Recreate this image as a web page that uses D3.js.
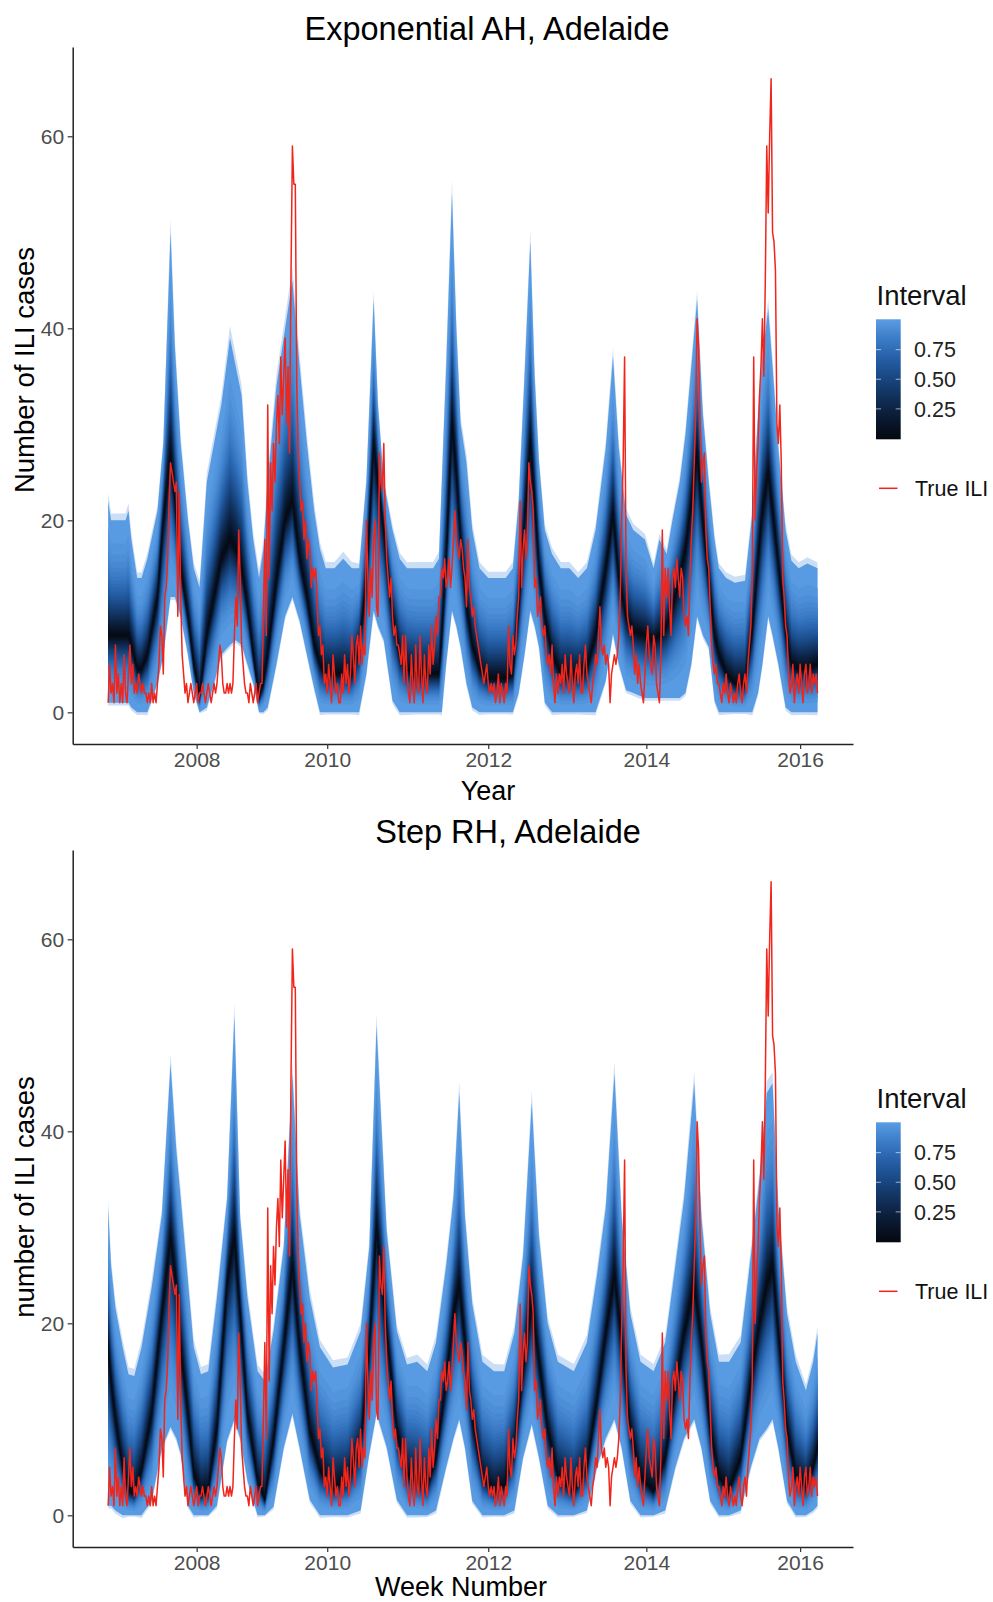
<!DOCTYPE html>
<html>
<head>
<meta charset="utf-8">
<script src="https://cdn.jsdelivr.net/npm/d3@7"></script>
<style>
body { margin: 0; background: #fff; }
svg text { font-family: "Liberation Sans", Arial, Helvetica, sans-serif; }
</style>
</head>
<body>
<div id="chart"></div>
<script>
// weekly true ILI counts (week 0 = first week shown)
const trueILI = [
  1,5,2,3,1,7,2,4,1,3,1,6,2,1,4,7,3,5,2,3,2,4,3,
  2,3,2,2,1,2,1,3,1,2,1,3,
  5,9,8,4,12,13,16,22,26,25,24,23,24,10,23,12,6,4,
  2,3,1,2,3,2,1,2,3,1,2,
  2,3,2,1,2,3,2,1,2,3,2,
  3,5,7,6,3,2,
  2,3,2,3,2,3,
  8,12,9,19,14,7,5,3,2,
  2,1,3,2,1,2,3,1,2,3,
  3,10,18,8,32,14,26,21,28,24,30,33,28,37,31,35,39,30,36,27,45,59,55,55,
  34,27,24,21,22,18,20,16,18,17,13,15,14,15,12,8,9,6,7,3,
  4,2,5,3,1,6,4,2,3,1,1,4,2,6,3,5,2,4,8,6,3,7,8,5,
  9,5,7,6,20,14,10,15,12,18,20,11,10,27,24,23,28,20,16,14,12,14,10,8,9,7,7,
  6,5,8,3,8,4,2,1,6,3,1,7,3,2,8,4,1,6,3,2,7,4,9,5,7,10,8,12,
  12,15,14,16,13,14,16,13,15,18,21,18,17,16,18,17,15,14,11,18,13,12,10,11,9,8,7,6,5,4,3,4,5,3,2,3,2,
  3,1,2,4,1,3,2,1,3,2,9,5,4,8,6,7,10,12,
  22,13,17,19,16,18,26,24,23,21,13,14,10,11,12,9,8,9,6,5,6,4,7,3,1,
  4,2,4,3,5,2,6,4,3,2,6,3,1,4,5,3,6,2,2,5,7,4,3,2,1,3,4,6,5,8,11,7,
  6,7,5,6,5,1,4,5,6,5,6,8,12,20,26,37,15,10,9,8,
  9,7,4,6,3,5,3,2,1,4,7,9,6,5,4,8,7,3,2,1,6,19,8,15,
  12,15,11,8,14,15,13,16,14,12,15,14,10,9,10,8,14,18,21,
  26,31,41,38,30,24,26,27,19,16,15,11,7,5,4,5,3,3,2,1,3,2,
  4,2,1,3,2,1,2,1,3,4,2,1,3,4,2,5,7,9,14,
  37,20,25,28,33,36,41,35,45,59,52,60,66,50,49,46,30,28,32,26,14,12,9,8,
  4,2,3,5,1,3,4,2,5,3,1,4,5,2,3,5,2,4,3,4,2
];

// Exponential AH forecast: week, outer lower bound, median, outer upper bound
const ahWeek = [0,2,12,14,16,20,23, 27,34,38,43,46,50,55,59, 63,68,73,78,84,88,92,96,100,
  104,107,110,116,122,127,132,137,142,146, 150,156,162,168,173, 178,183,186,190,196,201,
  206,212,218,224,228, 230,233,237,240,243,247,251, 256,262,268,274,279,
  283,287,291,294,297,301,306, 312,318,324,330,336, 343,348,352,357,362,370,376,380,385,
  389,394,398,402,406,410,414,418,421,426,432,439, 444,448,451,455,458,462,467,471,476,482,489];
const ahLo = [1,1,1,1,0.5,0,0, 0,3,6,12,12,10,6,2, 0,0.5,3,6,7,7.5,7,5,3,
  0,0,0.5,5,10,12,9.5,6,2.5,0, 0,0,0,0,0, 4,10.6,9,7.5,1.2,0,
  0,0,0,0,0, 0,5,10.6,9,6.8,3,0.5, 0,0,0,0,0,
  2,6,10.6,9,6.8,1,0, 0,0,0,0,0, 3.3,8.2,5,2.3,2,1.5,1.5,1.5,1.5,
  1.5,1.5,2,5,10,8,6.8,1.2,0,0,0,0, 0,2,5,10,8,5,0.5,0,0,0,0];
const ahMed = [8,8,8,8,7,4.5,4.5, 6,12,20,27,22,15,10,5, 1.5,8,12,16,18,17,15,11,6,
  1.5,3,6,13.7,20,22,16,12,7,5, 4,4,4,4,6.8, 13.7,28,24,19,10,6,
  4.5,4,4,4,4, 8,16,30,25,18,11,7, 4.5,3.5,3.5,3.5,4,
  11,20,28,22,15,10,6, 4,4,4,4.5,8, 15,20.6,14,10,8.5,8,7.5,8,9,
  11,14,17,22,27,20,13.7,8,6,4,3,3, 8.5,16,21,25,21,15.4,8.5,5,4.5,4.5,5];
const ahHi = [22,20,20,21,18,14,14, 16,21,28,50,38,28,20,15, 13,24,28,32,39,36,33,24,18,
  14,17,24,34,40,45,36,28,21,17, 15,15,16,15,15, 24,43,32,24,19,16,
  15,15,15,15,16, 24,36,54,40,30,26,19, 15,14,14,14,15,
  22,35,49,35,26,19,16.5, 15,15,14,15,19, 27.5,37,27.5,20.6,19,18,15,18,16.5,
  20,24,29,36,43,31,24,18,15,14,13.5,13.7, 20.6,31,37,42,36,27.5,19,15.8,15,15.5,15];

// Step RH forecast
const rhWeek = [0,2,5,10,14,18,23, 30,37,43,47,50,55,59,64,69, 75,82,87,91,96,103,108,
  114,121,127,132,139,146,155,165, 174,180,185,192,199,206,213,220,226,
  233,238,242,246,251,258,266,273,280, 286,292,297,303,310,321,330,
  337,343,349,354,360,367,376,384, 391,397,404,409,415,421,428,436,
  443,449,454,458,462,468,474,481,486,489];
const rhLo = [1,1,0.5,0,0,0,0, 1.5,7,9.2,8,6.4,1,0,0,0, 1,7.8,10,8,3.6,0,0,
  0.9,7,10.6,7,1.6,0,0,0, 0.5,6.4,10.6,7.1,1.6,0,0,0,0.5,
  5,8,10,7,1.5,0,0,0,0.5, 6,9.5,6,1,0,0,0.5,
  5,8,10,7,1.5,0,0,0.5, 5,8,10,7,1.5,0,0,0.5,
  5,8,9,10,7,1.5,0,0,0.5,1];
const rhMed = [17.5,14,10,5,2.6,2.2,4.7, 10.6,21,29,24,17.5,10.6,4.3,2.2,2.5, 9.2,24.4,29,21,10.6,3.6,1.6,
  7.8,17.5,26,17.5,8.8,4.7,2.9,3.6, 7.1,17.5,30,19.2,8.8,4.3,3.6,3,6,
  14,21,24,18,10,4,2.5,3,7, 15,22,16,9,4,2.5,5,
  12,19,25,18,9,4,2.5,6, 13,19,24,18,9,4,2.5,6,
  14,20,24,26,19,9,4,3,5,7];
const rhHi = [32,26,21.6,17.5,14.7,14.5,17.5, 23.7,31.3,47,38,33,24.4,17.5,14.7,15, 22.7,33,52,31,22.7,15,14,
  19.2,27.9,46,31.3,22.7,17.5,15.4,15.7, 19.2,27.9,51,29.6,19.2,15.7,16,15,18,
  26,33,44,31,22,16,15,15,19, 27,43,29,20,16,15,18,
  25,32,46,31,21,16,15,18, 26,33,45,31,21,16,16,18,
  27,35,44,45,32,21,16,13,16,19];

const yearTicks = [61, 151, 262, 371, 477];
const yearLabels = ['2008', '2010', '2012', '2014', '2016'];
const countTicks = [0, 20, 40, 60];
const intervalTicks = [0.25, 0.5, 0.75];

const width = 993, height = 1602;

const svg = d3.select('#chart')
  .append('svg')
  .attr('width', width)
  .attr('height', height);

const fanColor = d3.interpolateRgbBasis(['#05080f', '#0c2140', '#17457f', '#2a69b8', '#5a9de4']);
const redColor = '#f0251b';

// width of a central interval relative to the outer (99%) one, normal shape
function erfinv(v) {
  const a = 0.147;
  const ln = Math.log(1 - v * v);
  const t = 2 / (Math.PI * a) + ln / 2;
  return Math.sign(v) * Math.sqrt(Math.sqrt(t * t - ln / a) - t);
}
const zOuter = erfinv(0.99);
const levels = d3.range(0.99, 0, -0.03);

const x = d3.scaleLinear().domain([-24.45, 513.45]).range([72.7, 853]);

const panels = [
  {top: 47, bottom: 744, title: 'Exponential AH, Adelaide', titleX: 487, titleY: 40,
   ylab: 'Number of ILI cases', ylabY: 370, xlab: 'Year', xlabX: 488, xlabY: 800,
   week: ahWeek, lo: ahLo, med: ahMed, hi: ahHi},
  {top: 850, bottom: 1547, title: 'Step RH, Adelaide', titleX: 508, titleY: 843,
   ylab: 'number of ILI cases', ylabY: 1197, xlab: 'Week Number', xlabX: 461, xlabY: 1596,
   week: rhWeek, lo: rhLo, med: rhMed, hi: rhHi}
];

// gradient for the colourbar
const grad = svg.append('defs').append('linearGradient')
  .attr('id', 'intervalGrad')
  .attr('x1', 0).attr('y1', 1).attr('x2', 0).attr('y2', 0);
d3.range(0, 1.0001, 0.05).forEach(t => {
  grad.append('stop').attr('offset', t).attr('stop-color', fanColor(t));
});

panels.forEach(p => {
  const y = d3.scaleLinear().domain([-3.3, 69.3]).range([p.bottom, p.top]);
  const g = svg.append('g');

  const knots = p.week.map((w, i) => ({w: w, lo: p.lo[i], med: p.med[i], hi: p.hi[i]}));

  const band = f => d3.area()
    .x(d => x(d.w))
    .y0(d => y(Math.max(d.med - (d.med - d.lo) * f, d.lo - 0.3)))
    .y1(d => y(d.med + (d.hi - d.med) * f));

  // soft outer fringe
  g.append('path')
    .datum(knots)
    .attr('d', band(1.06))
    .attr('fill', '#9ec3ee')
    .attr('fill-opacity', 0.55);

  // fan bands, outer first
  levels.forEach(lv => {
    g.append('path')
      .datum(knots)
      .attr('d', band(erfinv(lv) / zOuter))
      .attr('fill', fanColor(lv));
  });

  // true ILI line
  const line = d3.line()
    .x((d, i) => x(i))
    .y(d => y(d));
  g.append('path')
    .datum(trueILI)
    .attr('d', line)
    .style('fill', 'none')
    .style('stroke', redColor)
    .style('stroke-width', '1.5px')
    .style('stroke-linejoin', 'round');

  // axes
  const xAxis = d3.axisBottom(x)
    .tickValues(yearTicks)
    .tickFormat((d, i) => yearLabels[i])
    .tickSizeInner(5).tickSizeOuter(0).tickPadding(3.5);
  const yAxis = d3.axisLeft(y)
    .tickValues(countTicks)
    .tickSizeInner(5).tickSizeOuter(0).tickPadding(3.5);

  const xg = svg.append('g')
    .attr('transform', 'translate(0,' + p.bottom + ')')
    .call(xAxis);
  const yg = svg.append('g')
    .attr('transform', 'translate(' + x.range()[0] + ',0)')
    .call(yAxis);

  [xg, yg].forEach(ax => {
    ax.select('.domain').attr('stroke', '#222').attr('stroke-width', 1.5);
    ax.selectAll('.tick line').attr('stroke', '#333').attr('stroke-width', 1.2);
    ax.selectAll('.tick text')
      .attr('fill', '#4d4d4d')
      .style('font-size', '21px')
      .style('font-family', '"Liberation Sans", Arial, sans-serif');
  });

  // titles
  svg.append('text')
    .attr('x', p.titleX).attr('y', p.titleY)
    .attr('text-anchor', 'middle')
    .style('font-size', '32.5px')
    .style('fill', '#000')
    .text(p.title);

  svg.append('text')
    .attr('x', p.xlabX).attr('y', p.xlabY)
    .attr('text-anchor', 'middle')
    .style('font-size', '27px')
    .style('fill', '#000')
    .text(p.xlab);

  svg.append('text')
    .attr('transform', 'translate(33.5,' + p.ylabY + ') rotate(-90)')
    .attr('text-anchor', 'middle')
    .style('font-size', '27.5px')
    .style('fill', '#000')
    .text(p.ylab);

  // legend
  const off = p.top - 47;
  const lg = svg.append('g').attr('transform', 'translate(0,' + off + ')');
  lg.append('text')
    .attr('x', 876.5).attr('y', 305)
    .style('font-size', '27.5px')
    .style('fill', '#111')
    .text('Interval');

  const ly = d3.scaleLinear().domain([0, 1]).range([438.5, 320]);
  lg.append('rect')
    .attr('x', 876).attr('y', 319.3)
    .attr('width', 24.7).attr('height', 120)
    .attr('fill', 'url(#intervalGrad)');

  intervalTicks.forEach(v => {
    lg.append('line')
      .attr('x1', 876).attr('x2', 881)
      .attr('y1', ly(v)).attr('y2', ly(v))
      .attr('stroke', '#fff').attr('stroke-opacity', 0.6);
    lg.append('line')
      .attr('x1', 895.7).attr('x2', 900.7)
      .attr('y1', ly(v)).attr('y2', ly(v))
      .attr('stroke', '#fff').attr('stroke-opacity', 0.6);
    lg.append('text')
      .attr('x', 914).attr('y', ly(v) + 7.8)
      .style('font-size', '21.5px')
      .style('fill', '#222')
      .text(d3.format('.2f')(v));
  });

  lg.append('line')
    .attr('x1', 879).attr('x2', 897.5)
    .attr('y1', 488.3).attr('y2', 488.3)
    .attr('stroke', redColor).attr('stroke-width', 1.5);
  lg.append('text')
    .attr('x', 915).attr('y', 495.5)
    .style('font-size', '21.5px')
    .style('fill', '#111')
    .text('True ILI');
});
</script>
</body>
</html>
